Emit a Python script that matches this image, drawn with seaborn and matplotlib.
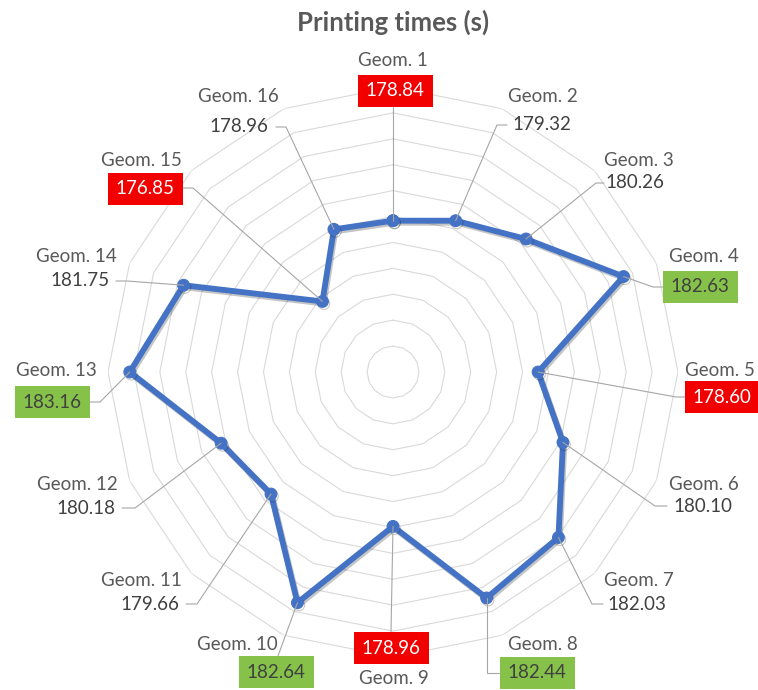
import numpy as np
import pandas as pd
import seaborn as sns
import matplotlib.pyplot as plt
import matplotlib.patheffects as pe
from matplotlib.lines import Line2D
from matplotlib.patches import Rectangle
from matplotlib.transforms import IdentityTransform

# ---- data -------------------------------------------------------------
geoms = [f"Geom. {i}" for i in range(1, 17)]
times = [178.84, 179.32, 180.26, 182.63, 178.60, 180.10, 182.03, 182.44,
         178.96, 182.64, 179.66, 180.18, 183.16, 181.75, 176.85, 178.96]
flags = ["low", "", "", "high", "low", "", "", "high",
         "low", "high", "", "", "high", "", "low", ""]
title = "Printing times (s)"

# radial scale of the chart
r_min, r_max = 173, 184
ring_levels = np.arange(174, 185)

# ---- label layout (pixel positions, origin top-left) -----------------
name_pos = [(393, 60), (543, 97), (639, 160), (704, 257), (720, 371),
            (704, 485), (639, 581), (543, 645), (394, 678), (237, 645),
            (141, 581), (77, 485), (56, 370), (76, 257), (141, 160),
            (238, 97)]
value_pos = [(395, 91), (542, 125), (635, 183), (700, 287), (722, 397),
             (703, 506), (637, 604), (537, 673), (391, 648), (276, 672),
             (150, 604), (86, 508), (52, 402), (80, 281), (145, 189),
             (239, 127)]
# leader start and horizontal stub length
leader_start = [(393, 107), (507, 125), (604, 183), (663, 287), (685, 397),
                (667, 506), (603, 604), (499, 673), (391, 632), (278, 656),
                (186, 604), (122, 508), (89, 402), (116, 281), (183, 188),
                (276, 127)]
leader_stub = [0, -10, -8, -10, -9, -12, -11, None, 0, 0,
               11, 13, 11, 11, 10, 10]

W, H = 758, 690
BOX_W, BOX_H = 75, 32
box_colors = {"low": "#F20000", "high": "#86C24A"}
box_text = {"low": "white", "high": "#404040"}

sns.set_theme(style="white")
plt.rcParams["font.family"] = ["Lato", "DejaVu Sans"]

fig = plt.figure(figsize=(W / 100, H / 100), dpi=100)
fig.patch.set_facecolor("white")
ax = fig.add_axes([108 / W, 33 / H, 570 / W, 570 / H], projection="polar")

theta = np.linspace(0, 2 * np.pi, len(geoms), endpoint=False)
theta_closed = np.append(theta, 2 * np.pi)

df = pd.DataFrame({"theta": theta_closed, "time": times + [times[0]]})

# polygonal gridlines
for lv in ring_levels:
    ax.plot(theta_closed, [lv] * len(theta_closed), color="#D9D9D9",
            lw=0.8, zorder=1)

sns.lineplot(data=df, x="theta", y="time", ax=ax, sort=False, estimator=None,
             color="#4472C4", lw=4.2, marker="o", markersize=8.5,
             markeredgecolor="#4472C4", zorder=3,
             path_effects=[pe.SimpleLineShadow(offset=(1, -1.5), alpha=0.25),
                           pe.Normal()])

ax.set_theta_zero_location("N")
ax.set_theta_direction(-1)
ax.set_ylim(r_min, r_max)
ax.set_xticks([])
ax.set_yticks([])
ax.grid(False)
ax.spines["polar"].set_visible(False)
ax.set_xlabel("")
ax.set_ylabel("")
ax.set_facecolor("white")

# ---- leader lines -----------------------------------------------------
pts = ax.transData.transform(np.column_stack([theta, times]))
for i in range(len(geoms)):
    sx, sy = leader_start[i]
    sy = H - sy
    px, py = pts[i]
    stub = leader_stub[i]
    if stub is None:
        xs, ys = [sx, px, px], [sy, sy, py]
    elif stub == 0:
        xs, ys = [sx, px], [sy, py]
    else:
        xs, ys = [sx, sx + stub, px], [sy, sy, py]
    fig.add_artist(Line2D(xs, ys, transform=IdentityTransform(),
                          color="#A6A6A6", lw=0.8, zorder=2))

# ---- labels -----------------------------------------------------------
for i, name in enumerate(geoms):
    nx, ny = name_pos[i]
    fig.text(nx / W, 1 - ny / H, name, ha="center", va="center",
             fontsize=13.5, color="#595959", zorder=5)
    vx, vy = value_pos[i]
    flag = flags[i]
    tcolor = "#404040"
    if flag:
        fig.add_artist(Rectangle((vx - BOX_W / 2, H - vy - BOX_H / 2),
                                 BOX_W, BOX_H, transform=IdentityTransform(),
                                 facecolor=box_colors[flag], edgecolor="none",
                                 zorder=4))
        tcolor = box_text[flag]
    fig.text(vx / W, 1 - vy / H, f"{times[i]:.2f}", ha="center", va="center",
             fontsize=13.5, color=tcolor, zorder=5)

fig.text(393 / W, 1 - 22 / H, title, ha="center", va="center",
         fontsize=18.5, fontweight="bold", color="#595959")

fig.savefig("out.png", dpi=100)
